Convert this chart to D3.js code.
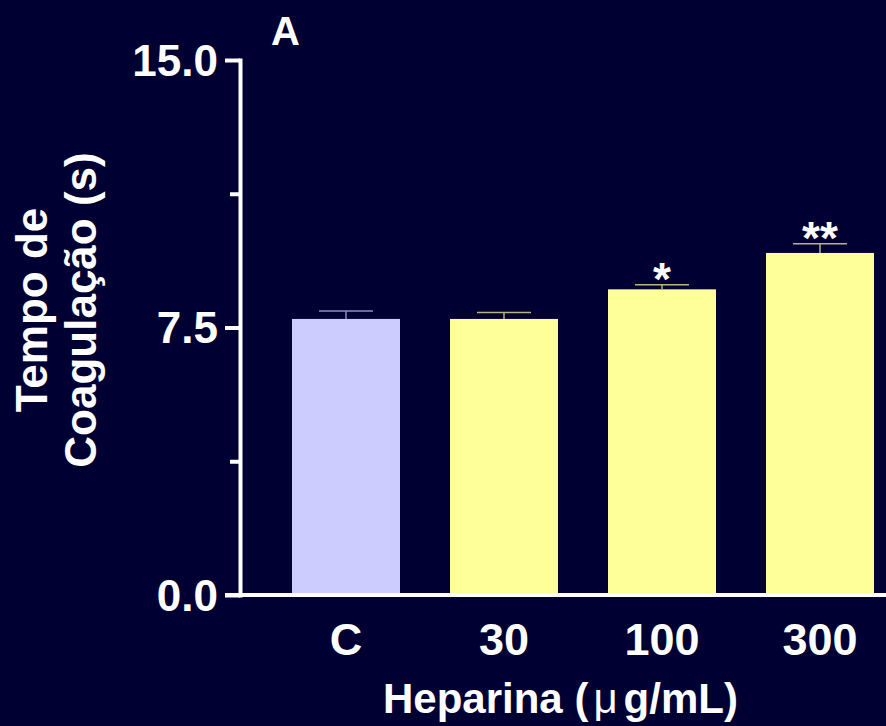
<!DOCTYPE html>
<html>
<head>
<meta charset="utf-8">
<script src="https://cdn.jsdelivr.net/npm/d3@7"></script>
<style>
  html, body { margin: 0; padding: 0; background: #000033; }
  svg { display: block; }
  text { font-family: Arial, "Liberation Sans", sans-serif; fill: #ffffff; font-weight: bold; }
</style>
</head>
<body>
<script>
const categories = ["C", "30", "100", "300"];
const means = [7.74, 7.74, 8.57, 9.59];
const errors = [0.22, 0.18, 0.13, 0.26];
const significance = ["", "", "*", "**"];
const majorTicks = [0, 7.5, 15];
const minorTicks = [3.75, 11.25];
const barColors = ["#ccccff", "#ffff99", "#ffff99", "#ffff99"];
const errColors = ["#8c8cc0", "#b4b47c", "#b4b47c", "#b4b47c"];

const W = 886, H = 726;
const svg = d3.select("body").append("svg").attr("width", W).attr("height", H);
svg.append("rect").attr("width", W).attr("height", H).attr("fill", "#000033");

const y = d3.scaleLinear().domain([0, 15]).range([595, 60]);
const x = d3.scaleBand().domain(categories).range([267, 899])
  .paddingInner(50 / 158).paddingOuter(25 / 158);

const axisX = 240;

// bars
svg.selectAll("rect.bar").data(categories).enter().append("rect")
  .attr("class", "bar")
  .attr("x", d => x(d))
  .attr("width", x.bandwidth())
  .attr("y", (d, i) => y(means[i]))
  .attr("height", (d, i) => y(0) - y(means[i]))
  .attr("fill", (d, i) => barColors[i]);

// error bars
const capW = 54;
categories.forEach((d, i) => {
  const cx = x(d) + x.bandwidth() / 2;
  const g = svg.append("g").attr("stroke", errColors[i]).attr("stroke-width", 1.5);
  g.append("line").attr("x1", cx).attr("x2", cx).attr("y1", y(means[i])).attr("y2", y(means[i] + errors[i]));
  g.append("line").attr("x1", cx - capW / 2).attr("x2", cx + capW / 2)
    .attr("y1", y(means[i] + errors[i])).attr("y2", y(means[i] + errors[i]));
  if (significance[i]) {
    svg.append("text").attr("x", cx).attr("y", y(means[i] + errors[i]) + 10)
      .attr("text-anchor", "middle").attr("font-size", 46).text(significance[i]);
  }
});

// y axis
const yAxis = d3.axisLeft(y).tickValues(majorTicks).tickFormat(d3.format(".1f"))
  .tickSize(15).tickSizeOuter(0).tickPadding(7);
const gy = svg.append("g").attr("transform", `translate(${axisX},0)`).call(yAxis);
gy.select(".domain").attr("stroke", "#fff").attr("stroke-width", 4).attr("stroke-linecap", "square");
gy.selectAll(".tick line").attr("stroke", "#fff").attr("stroke-width", 4);
gy.selectAll(".tick text").attr("fill", "#fff").attr("font-size", 44)
  .attr("font-family", "Arial, 'Liberation Sans', sans-serif").attr("font-weight", "bold")
  .attr("dy", "0.35em");

const yMinor = d3.axisLeft(y).tickValues(minorTicks).tickFormat("").tickSize(10).tickSizeOuter(0);
const gm = svg.append("g").attr("transform", `translate(${axisX},0)`).call(yMinor);
gm.select(".domain").remove();
gm.selectAll(".tick line").attr("stroke", "#fff").attr("stroke-width", 4);

// x axis baseline
svg.append("line").attr("x1", axisX - 15).attr("x2", W).attr("y1", y(0)).attr("y2", y(0))
  .attr("stroke", "#fff").attr("stroke-width", 4);

const xAxis = d3.axisBottom(x).tickSize(0).tickPadding(28);
const gx = svg.append("g").attr("transform", `translate(0,${y(0)})`).call(xAxis);
gx.select(".domain").remove();
gx.selectAll(".tick text").attr("fill", "#fff").attr("font-size", 45)
  .attr("font-family", "Arial, 'Liberation Sans', sans-serif").attr("font-weight", "bold");

// axis titles
const xt = svg.append("text").attr("x", 383).attr("y", 713).attr("font-size", 42);
xt.append("tspan").text("Heparina (");
xt.append("tspan").attr("font-weight", "normal").attr("dx", 5).text("μ");
xt.append("tspan").attr("dx", 6).text("g/mL)");

const yt = svg.append("g").attr("transform", "translate(0,310) rotate(-90)");
yt.append("text").attr("x", 0).attr("y", 47).attr("text-anchor", "middle").attr("font-size", 44).text("Tempo de");
yt.append("text").attr("x", 0).attr("y", 96).attr("text-anchor", "middle").attr("font-size", 44).text("Coagulação (s)");

// panel label
svg.append("text").attr("x", 271).attr("y", 45).attr("font-size", 40).text("A");
</script>
</body>
</html>
